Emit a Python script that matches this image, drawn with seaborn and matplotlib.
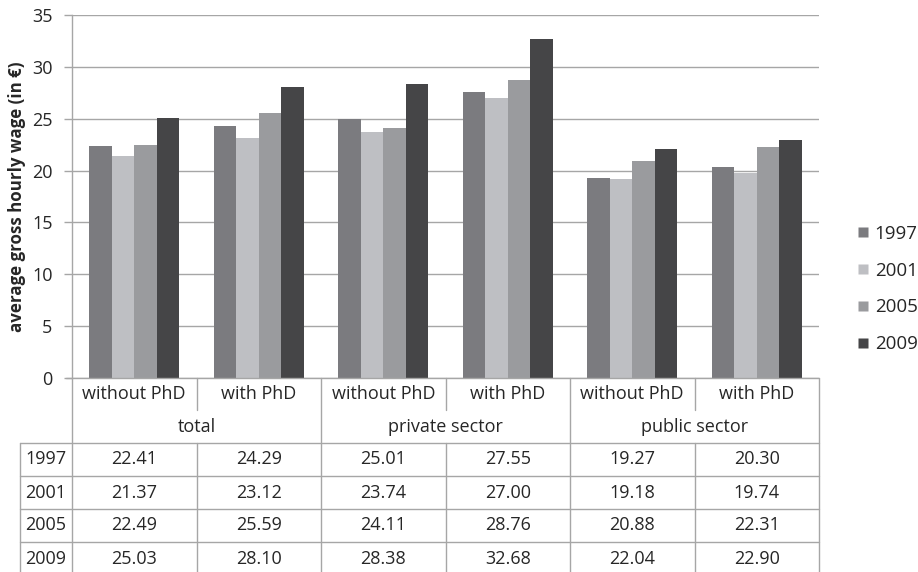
import matplotlib
matplotlib.use("Agg")
import matplotlib.pyplot as plt
from matplotlib.lines import Line2D
import seaborn as sns
import pandas as pd

# ---- data ----
groups = ["total", "private sector", "public sector"]
subgroups = ["without PhD", "with PhD"]
years = ["1997", "2001", "2005", "2009"]
v1997 = [22.41, 24.29, 25.01, 27.55, 19.27, 20.30]
v2001 = [21.37, 23.12, 23.74, 27.00, 19.18, 19.74]
v2005 = [22.49, 25.59, 24.11, 28.76, 20.88, 22.31]
v2009 = [25.03, 28.10, 28.38, 32.68, 22.04, 22.90]
colors = ["#7b7b7f", "#bebfc3", "#9a9b9e", "#454547"]
ylabel = "average gross hourly wage (in €)"

series = [v1997, v2001, v2005, v2009]
cats = [f"{g}|{s}" for g in groups for s in subgroups]
rows = []
for y, vals in zip(years, series):
    for c, v in zip(cats, vals):
        rows.append({"cat": c, "year": y, "value": v})
df = pd.DataFrame(rows)

sns.set_theme(style="white")
plt.rcParams["font.family"] = ["Open Sans", "DejaVu Sans"]
TXT = "#262626"
LINE = "#a6a6a6"

W, H = 918, 572
fig = plt.figure(figsize=(W / 100, H / 100), dpi=100)

def fx(x):
    return x / W

def fy(y):
    return 1 - y / H

L, R, T, B = 72, 819, 15, 378
ax = fig.add_axes([fx(L), fy(B), fx(R) - fx(L), fy(T) - fy(B)])
sns.barplot(data=df, x="cat", y="value", hue="year", order=cats,
            hue_order=years, palette=colors, width=0.72, gap=0,
            saturation=1, ax=ax, legend=False, edgecolor="none")
ax.set_xlim(-0.5, len(cats) - 0.5)
ax.set_ylim(0, 35)
ax.set_yticks(range(0, 36, 5))
ax.set_xticks([])
ax.set_xlabel("")
ax.set_ylabel("")
ax.yaxis.grid(True, color=LINE, lw=1)
ax.set_axisbelow(True)
for s in ["top", "right", "bottom"]:
    ax.spines[s].set_visible(False)
ax.spines["left"].set_color(LINE)
ax.spines["left"].set_linewidth(1)
ax.tick_params(axis="y", length=6, width=1, color=LINE, pad=8,
               labelsize=13, labelcolor=TXT, left=True)

fig.text(fx(17), fy(197), ylabel, rotation=90, ha="center", va="center",
         fontsize=12.2, fontweight="bold", color=TXT)

# legend
handles = [Line2D([0], [0], marker="s", linestyle="none", markersize=7.5,
                  markerfacecolor=c, markeredgecolor="none") for c in colors]
fig.legend(handles, years, loc="center left",
           bbox_to_anchor=(fx(840), fy(289)), frameon=False,
           fontsize=13.5, labelspacing=1.0, handlelength=0.7,
           handletextpad=0.25, labelcolor=TXT)

# ---- data table ----
def hline(y, x0, x1):
    fig.add_artist(Line2D([fx(x0), fx(x1)], [fy(y), fy(y)], color=LINE,
                          lw=1, transform=fig.transFigure))

def vline(x, y0, y1):
    fig.add_artist(Line2D([fx(x), fx(x)], [fy(y0), fy(y1)], color=LINE,
                          lw=1, transform=fig.transFigure))

colw = (R - L) / len(cats)
xs = [L + i * colw for i in range(len(cats) + 1)]
hdr1, hdr2 = 378, 410
rowtop = 443
rowh = 33
bottom = H + 5

hline(B, 66, R)
for y in [rowtop + i * rowh for i in range(4)]:
    hline(y, 20, R)
vline(20, rowtop, bottom)
for i, x in enumerate(xs):
    if i % 2 == 0:
        vline(x, hdr1, bottom)
    else:
        vline(x, hdr1, hdr2)
        vline(x, rowtop, bottom)

FS = 13
for i, c in enumerate(cats):
    sub = c.split("|")[1]
    fig.text(fx(xs[i] + colw / 2), fy(394), sub, ha="center", va="center",
             fontsize=FS, color=TXT)
for gi, g in enumerate(groups):
    fig.text(fx(xs[2 * gi] + colw), fy(427), g, ha="center", va="center",
             fontsize=FS, color=TXT)
for ri, (y, vals) in enumerate(zip(years, series)):
    yc = rowtop + ri * rowh + rowh / 2
    fig.text(fx(46), fy(yc), y, ha="center", va="center", fontsize=FS,
             color=TXT)
    for i, v in enumerate(vals):
        fig.text(fx(xs[i] + colw / 2), fy(yc), f"{v:.2f}", ha="center",
                 va="center", fontsize=FS, color=TXT)

fig.savefig("out.png", dpi=100)
